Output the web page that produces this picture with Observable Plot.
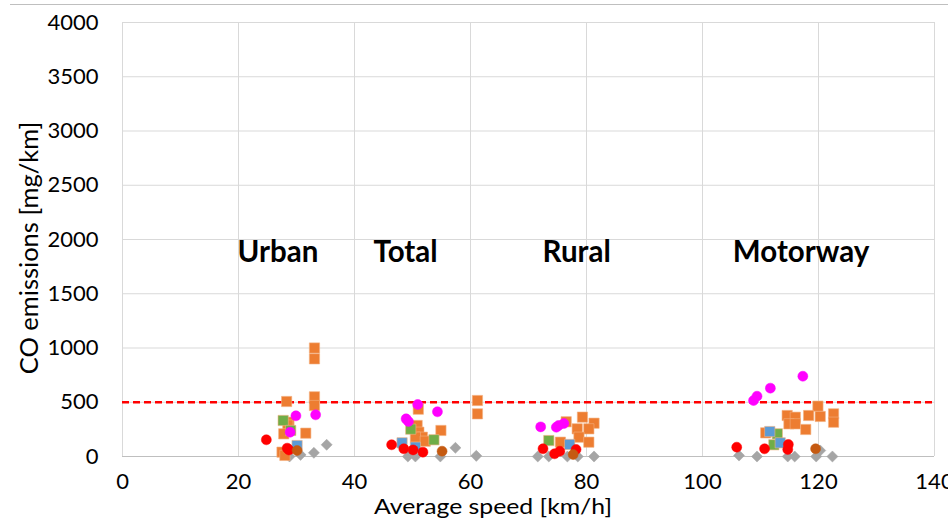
<!DOCTYPE html>
<html>
<head>
<meta charset="utf-8">
<script src="https://cdn.jsdelivr.net/npm/d3@7"></script>
<script src="https://cdn.jsdelivr.net/npm/@observablehq/plot@0.6"></script>
<style>
  html, body { margin: 0; padding: 0; background: #fff; }
  #chart { width: 948px; height: 519px; }
  svg { font-family: Lato, "Open Sans", sans-serif; }
</style>
</head>
<body>
<div id="chart"></div>
<script>
// Average trip speed [km/h] and CO emissions [mg/km], one pair of arrays per vehicle
const orangeSpeed = [33.1, 33.1, 33.1, 33.1, 28.3, 28.7, 28.5, 27.8, 31.6, 27.5, 28.0,
  51.0, 61.2, 61.2, 54.9, 50.8, 51.1, 51.7, 50.5, 52.2,
  79.3, 76.5, 81.3, 78.4, 80.4, 78.7, 80.4, 75.5,
  119.9, 122.6, 122.6, 120.3, 118.3, 114.6, 116.0, 114.9, 116.0, 117.8, 110.9];
const orangeCO = [1000, 900, 550, 470, 507, 316, 290, 209, 215, 40, 10,
  436, 516, 393, 240, 286, 224, 178, 178, 141,
  363, 320, 307, 255, 255, 178, 132, 132,
  464, 393, 316, 369, 378, 378, 362, 301, 301, 249, 218];

const greenSpeed = [27.7, 29.0, 49.7, 53.7, 73.5, 112.9, 112.3];
const greenCO = [332, 240, 252, 154, 147, 209, 108];

const blueSpeed = [30.1, 48.2, 50.5, 77.1, 111.6, 113.4];
const blueCO = [101, 126, 86, 111, 230, 126];

const redSpeed = [24.8, 28.4, 28.7, 46.4, 48.5, 50.1, 51.8, 72.5, 74.5, 75.4, 78.2,
  105.9, 110.7, 114.8, 114.7];
const redCO = [154, 77, 60, 108, 71, 61, 40, 71, 25, 49, 65, 86, 71, 111, 65];

const magentaSpeed = [29.9, 33.3, 28.9, 50.9, 54.3, 48.9, 49.3, 72.1, 74.8, 76.1, 75.2,
  117.3, 111.7, 109.4, 108.8];
const magentaCO = [375, 384, 224, 479, 412, 347, 323, 273, 270, 304, 286, 740, 630, 556, 516];

const brownSpeed = [30.1, 55.1, 77.7, 119.5];
const brownCO = [55, 49, 18, 71];

const graySpeed = [35.2, 33.0, 30.7, 28.8, 57.4, 61.0, 54.8, 49.2, 50.5,
  71.6, 73.5, 76.7, 78.5, 81.3, 106.3, 109.4, 114.7, 115.9, 119.6, 122.4, 120.3];
const grayCO = [108, 34, 15, 0, 80, 6, 0, 0, 0, 0, 0, 0, 0, 0, 9, 0, 0, 0, 0, 0, 55];

// Trip section labels
const sectionNames = ["Urban", "Total", "Rural", "Motorway"];
const sectionSpeed = [26.8, 48.8, 78.3, 117.0];
const sectionCO = [1880, 1880, 1880, 1880];

// Regulatory limit
const limitCO = 500;

const xTicks = [0, 20, 40, 60, 80, 100, 120, 140];
const yTicks = [0, 500, 1000, 1500, 2000, 2500, 3000, 3500, 4000];

const pairs = (xs, ys) => xs.map((x, i) => ({speed: x, co: ys[i]}));

const squareSeries = [
  {data: pairs(orangeSpeed, orangeCO), color: "#ED7D31"},
  {data: pairs(greenSpeed, greenCO), color: "#70AD47"},
  {data: pairs(blueSpeed, blueCO), color: "#5B9BD5"}
];
const circleSeries = [
  {data: pairs(redSpeed, redCO), color: "#FF0000"},
  {data: pairs(magentaSpeed, magentaCO), color: "#FF00FF"},
  {data: pairs(brownSpeed, brownCO), color: "#C55A11"}
];
const graySeries = pairs(graySpeed, grayCO);
const sections = sectionNames.map((n, i) => ({name: n, speed: sectionSpeed[i], co: sectionCO[i]}));

const marks = [
  Plot.gridX(xTicks, {stroke: "#d9d9d9", strokeOpacity: 1, strokeWidth: 1}),
  Plot.gridY(yTicks.filter(d => d > 0), {stroke: "#d9d9d9", strokeOpacity: 1, strokeWidth: 1}),
  Plot.ruleY([0], {stroke: "#bfbfbf", strokeWidth: 1}),
  Plot.ruleY([limitCO], {x1: 0, x2: 140, stroke: "#FF0000", strokeWidth: 2.5, strokeDasharray: "7,4"}),
  Plot.axisX(xTicks, {tickSize: 0, tickPadding: 16.5, fontSize: 22, fill: "#000", label: null, tickFormat: d => String(d)}),
  Plot.axisY(yTicks, {tickSize: 0, tickPadding: 24, fontSize: 22, fill: "#000", label: null, tickFormat: d => String(d)}),
  Plot.dot(graySeries, {x: "speed", y: "co", symbol: "diamond2", r: 5, fill: "#A5A5A5", stroke: "#A5A5A5", strokeWidth: 0.5})
];
for (const s of squareSeries) {
  marks.push(Plot.dot(s.data, {x: "speed", y: "co", symbol: "square", r: 5.8, fill: s.color, stroke: "#F4B183", strokeWidth: 0.6}));
}
for (const s of circleSeries) {
  marks.push(Plot.dot(s.data, {x: "speed", y: "co", symbol: "circle", r: 5, fill: s.color, stroke: s.color, strokeWidth: 0.5}));
}
marks.push(Plot.text(sections, {x: "speed", y: "co", text: "name", fontSize: 29.5, fontWeight: "bold", fill: "#000"}));

const chart = Plot.plot({
  width: 948,
  height: 519,
  marginLeft: 122,
  marginRight: 14,
  marginTop: 22,
  marginBottom: 63,
  style: {background: "#fff", fontFamily: "Lato, 'Open Sans', sans-serif"},
  x: {domain: [0, 140]},
  y: {domain: [0, 4000]},
  marks
});

// Outer chart border and axis titles
const svg = d3.select(chart);
svg.insert("line", ":first-child")
  .attr("x1", 10).attr("x2", 948).attr("y1", 4.5).attr("y2", 4.5)
  .attr("stroke", "#bfbfbf").attr("stroke-width", 1);
svg.append("text")
  .attr("x", 493).attr("y", 514.3)
  .attr("text-anchor", "middle")
  .attr("font-size", 22).attr("fill", "#000")
  .attr("textLength", 238).attr("lengthAdjust", "spacingAndGlyphs")
  .text("Average speed [km/h]");
svg.append("text")
  .attr("transform", "translate(38,248) rotate(-90)")
  .attr("text-anchor", "middle")
  .attr("font-size", 25.5).attr("fill", "#000")
  .text("CO emissions [mg/km]");

document.getElementById("chart").appendChild(chart);
</script>
</body>
</html>
